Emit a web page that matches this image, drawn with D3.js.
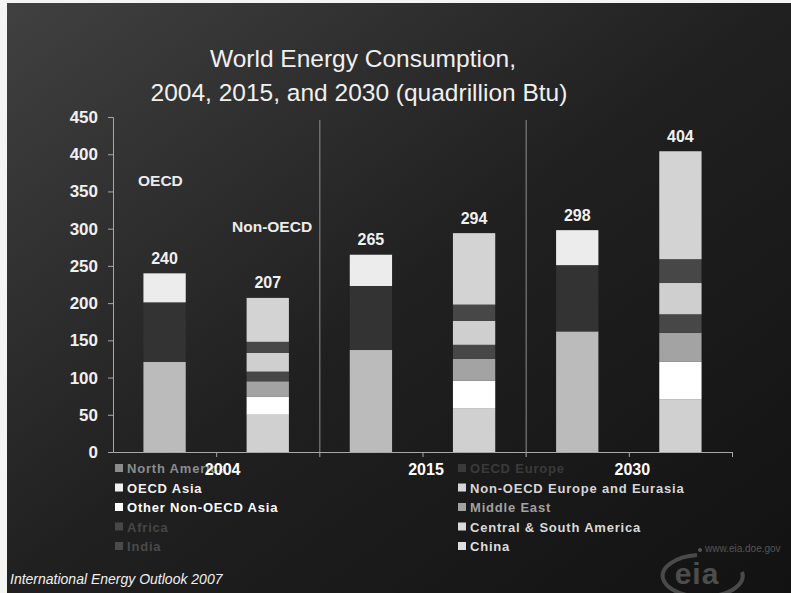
<!DOCTYPE html>
<html>
<head>
<meta charset="utf-8">
<script src="https://cdn.jsdelivr.net/npm/d3@7"></script>
<style>
  html, body { margin: 0; padding: 0; background: #1a1a1a; }
  svg { display: block; }
  text { font-family: "Liberation Sans", Arial, Helvetica, sans-serif; }
</style>
</head>
<body>
<svg id="chart" width="791" height="593"></svg>
<script>
// ---- data ----
const categories = ["2004 OECD", "2004 Non-OECD", "2015 OECD", "2015 Non-OECD", "2030 OECD", "2030 Non-OECD"];
const yearLabels = ["2004", "2015", "2030"];
const seriesNames = ["North America", "OECD Europe", "OECD Asia", "Non-OECD Europe and Eurasia",
  "Other Non-OECD Asia", "Middle East", "Africa", "Central & South America", "India", "China"];
const northAmerica   = [121, 0, 137, 0, 162, 0];
const oecdEurope     = [80, 0, 86, 0, 89, 0];
const oecdAsia       = [39, 0, 42, 0, 47, 0];
const nonOecdEurasia = [0, 50, 0, 59, 0, 71];
const otherAsia      = [0, 24, 0, 37, 0, 50];
const middleEast     = [0, 21, 0, 29, 0, 39];
const africa         = [0, 13, 0, 19, 0, 25];
const csAmerica      = [0, 25, 0, 32, 0, 42];
const india          = [0, 15, 0, 22, 0, 32];
const china          = [0, 59, 0, 96, 0, 145];
const totals         = [240, 207, 265, 294, 298, 404];
const yTicks = [0, 50, 100, 150, 200, 250, 300, 350, 400, 450];
const groupLabels = ["OECD", "Non-OECD"];

// ---- styles ----
const barColors = ["#bbbbbb", "#333333", "#ececec", "#d0d0d0", "#ffffff", "#a3a3a3", "#474747", "#cfcfcf", "#474747", "#d3d3d3"];
const legendColors = ["#8c8c8c", "#3a3a3a", "#f2f2f2", "#d6d6d6", "#ffffff", "#a2a2a2", "#474747", "#dadada", "#4a4a4a", "#dedede"];

const seriesValues = [northAmerica, oecdEurope, oecdAsia, nonOecdEurasia, otherAsia, middleEast, africa, csAmerica, india, china];
const table = categories.map((c, i) => {
  const row = { cat: c };
  seriesNames.forEach((s, j) => row[s] = seriesValues[j][i]);
  return row;
});

(function draw() {
const svg = d3.select("#chart");
const W = 791, H = 593;

// background gradient
const defs = svg.append("defs");
const grad = defs.append("linearGradient").attr("id", "bg")
  .attr("x1", 0).attr("y1", 0).attr("x2", 1).attr("y2", 1);
grad.append("stop").attr("offset", 0).attr("stop-color", "#414141");
grad.append("stop").attr("offset", 0.3).attr("stop-color", "#2d2d2d");
grad.append("stop").attr("offset", 0.5).attr("stop-color", "#202020");
grad.append("stop").attr("offset", 1).attr("stop-color", "#121212");
svg.append("rect").attr("width", W).attr("height", H).attr("fill", "url(#bg)");
// white frame edges
svg.append("rect").attr("x", 0).attr("y", 0).attr("width", W).attr("height", 3).attr("fill", "#f4f4f4");
svg.append("rect").attr("x", 0).attr("y", 0).attr("width", 7).attr("height", H).attr("fill", "#f4f4f4");

// title
const title = svg.append("text").attr("text-anchor", "middle").attr("fill", "#f0f0f0").attr("font-size", 24.5);
title.append("tspan").attr("x", 363).attr("y", 67).text("World Energy Consumption,");
title.append("tspan").attr("x", 359).attr("y", 101).text("2004, 2015, and 2030 (quadrillion Btu)");

// scales
const pLeft = 113, pRight = 732, pTop = 117, pBottom = 452;
const x = d3.scaleBand().domain(categories).range([pLeft, pRight]).paddingInner(0.59).paddingOuter(0.295);
const y = d3.scaleLinear().domain([0, 450]).range([pBottom, pTop]);
const bx = d3.scaleLinear().domain([0, categories.length]).range([pLeft, pRight]);

// separators
svg.append("g").selectAll("line").data([2, 4]).join("line")
  .attr("x1", d => bx(d) + 0.5).attr("x2", d => bx(d) + 0.5)
  .attr("y1", y(446)).attr("y2", pBottom)
  .attr("stroke", "#8e8e8e").attr("stroke-width", 1);

// stacked bars
const stack = d3.stack().keys(seriesNames)(table);
svg.append("g").selectAll("g").data(stack).join("g")
  .attr("fill", (d, i) => barColors[i])
  .selectAll("rect").data(d => d.filter(p => p[1] - p[0] > 0)).join("rect")
  .attr("x", d => x(d.data.cat))
  .attr("width", x.bandwidth())
  .attr("y", d => y(d[1]))
  .attr("height", d => y(d[0]) - y(d[1]));

// value labels
svg.append("g").selectAll("text").data(categories).join("text")
  .attr("x", d => x(d) + x.bandwidth() / 2)
  .attr("y", (d, i) => y(totals[i]) - 9.5)
  .attr("text-anchor", "middle").attr("fill", "#f0f0f0")
  .attr("font-size", 16).attr("font-weight", "bold")
  .text((d, i) => totals[i]);

// group labels
svg.append("text").attr("x", 138).attr("y", 186).attr("fill", "#ececec")
  .attr("font-size", 15.5).attr("font-weight", "bold").text(groupLabels[0]);
svg.append("text").attr("x", 232).attr("y", 232).attr("fill", "#ececec")
  .attr("font-size", 15.5).attr("font-weight", "bold").text(groupLabels[1]);

// y axis
const yAxis = svg.append("g").attr("transform", `translate(${pLeft},0)`)
  .call(d3.axisLeft(y).tickValues(yTicks).tickSize(5).tickPadding(10));
yAxis.selectAll("path, line").attr("stroke", "#a8a8a8");
yAxis.selectAll("text").attr("fill", "#f0f0f0").attr("font-size", 17).attr("font-weight", "bold")
  .attr("font-family", '"Liberation Sans", Arial, sans-serif');

// legend
const legend = svg.append("g");
const leg = legend.selectAll("g").data(seriesNames).join("g")
  .attr("transform", (d, i) => `translate(${i % 2 === 0 ? 115 : 458},${473 + Math.floor(i / 2) * 19.5})`);
leg.append("rect").attr("x", 0).attr("y", -9).attr("width", 8).attr("height", 8)
  .attr("fill", (d, i) => legendColors[i]);
leg.append("text").attr("x", 12).attr("y", 0)
  .attr("fill", (d, i) => legendColors[i])
  .attr("font-size", 13).attr("font-weight", "bold").attr("letter-spacing", 0.8)
  .text(d => d);

// x axis
const xAxis = svg.append("g").attr("transform", `translate(0,${pBottom})`)
  .call(d3.axisBottom(bx).tickValues([1, 2, 3, 4, 5, 6]).tickSizeInner(5).tickSizeOuter(0).tickPadding(7)
    .tickFormat(d => d % 2 === 1 ? yearLabels[(d - 1) / 2] : ""));
xAxis.select("path").attr("stroke", "#a8a8a8");
xAxis.selectAll("line").attr("stroke", "#a8a8a8");
xAxis.selectAll("text").attr("fill", "#ffffff").attr("font-size", 16).attr("font-weight", "bold")
  .attr("dx", d => d === 1 ? 6 : 3)
  .attr("font-family", '"Liberation Sans", Arial, sans-serif');

// footer
svg.append("text").attr("x", 10).attr("y", 584).attr("fill", "#f0f0f0")
  .attr("font-size", 14).attr("font-style", "italic").text("International Energy Outlook 2007");

// eia logo
const logo = svg.append("g");
logo.append("path")
  .attr("d", "M 697 555 A 40 21 0 1 0 742 572")
  .attr("fill", "none").attr("stroke", "#4a4a4a").attr("stroke-width", 4);
logo.append("circle").attr("cx", 700).attr("cy", 550).attr("r", 2).attr("fill", "#555");
logo.append("text").attr("x", 705).attr("y", 552).attr("fill", "#555").attr("font-size", 10).text("www.eia.doe.gov");
logo.append("text").attr("x", 697).attr("y", 584).attr("text-anchor", "middle").attr("fill", "#4d4d4d")
  .attr("font-size", 30).attr("font-weight", "bold").attr("letter-spacing", 1).text("eia");
})();
</script>
</body>
</html>
